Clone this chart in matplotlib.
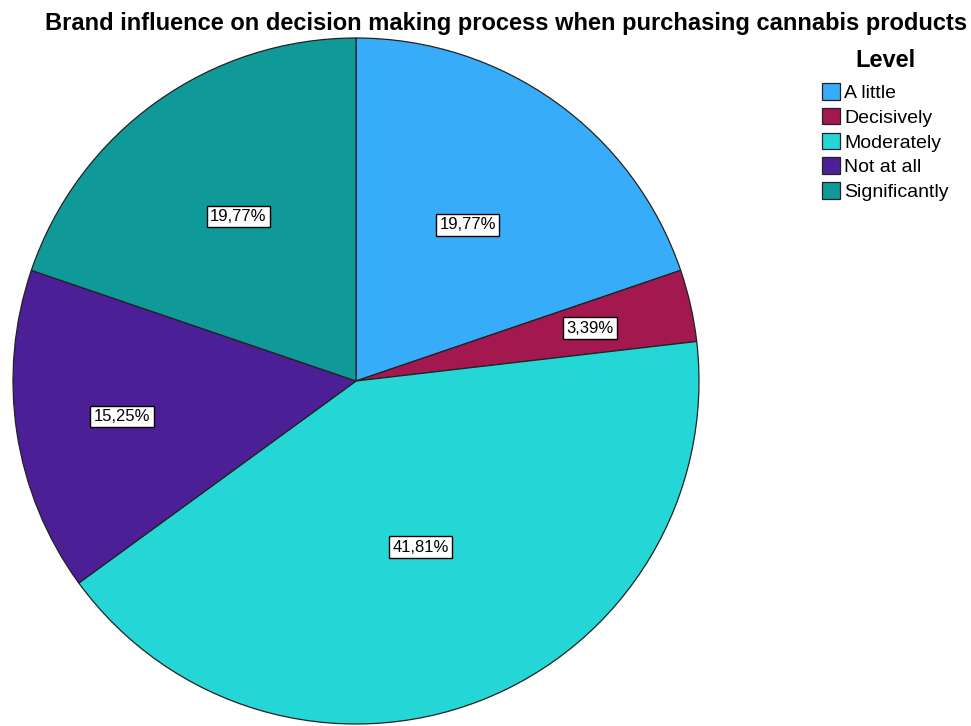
import numpy as np
import matplotlib.pyplot as plt

plt.rcParams['font.family'] = ['Liberation Sans', 'DejaVu Sans']

levels = ['A little', 'Decisively', 'Moderately', 'Not at all', 'Significantly']
shares = [19.77, 3.39, 41.81, 15.25, 19.77]
colors = ['#37acf8', '#a3184f', '#25d6d6', '#4c1f96', '#0f9a99']
# radial position of each percentage box, as a fraction of the radius
label_r = [0.56, 0.70, 0.52, 0.69, 0.59]

W, H = 971, 726
fig = plt.figure(figsize=(W / 100, H / 100), dpi=100)

cx, cy, R = 356, 381, 343
ax = fig.add_axes([(cx - R) / W, (H - cy - R) / H, 2 * R / W, 2 * R / H])

wedges, _ = ax.pie(shares, colors=colors, startangle=90, counterclock=False,
                   radius=1, wedgeprops=dict(edgecolor='#222222', linewidth=0.9))
ax.set_xlim(-1, 1)
ax.set_ylim(-1, 1)
ax.set_aspect('equal')
ax.axis('off')

for w, val, r in zip(wedges, shares, label_r):
    mid = np.deg2rad((w.theta1 + w.theta2) / 2)
    ax.text(r * np.cos(mid), r * np.sin(mid), f'{val:.2f}%'.replace('.', ','),
            ha='center', va='center', fontsize=12,
            bbox=dict(boxstyle='square,pad=0.2', fc='white', ec='black', lw=1.0))

fig.text(506 / W, 1 - 30 / H,
         'Brand influence on decision making process when purchasing cannabis products',
         ha='center', va='baseline', fontsize=17, fontweight='bold')

# legend heading drawn on its own so the gap below it can be set freely
fig.text(885 / W, 1 - 67 / H, 'Level', ha='center', va='baseline',
         fontsize=17, fontweight='bold')
leg = fig.legend(wedges, levels, loc='upper left',
                 bbox_to_anchor=(822 / W, 1 - 83 / H), frameon=False,
                 fontsize=14, handlelength=0.93, handleheight=0.93,
                 handletextpad=0.2, labelspacing=0.3, borderpad=0,
                 borderaxespad=0)

fig.savefig('out.png', dpi=100)
